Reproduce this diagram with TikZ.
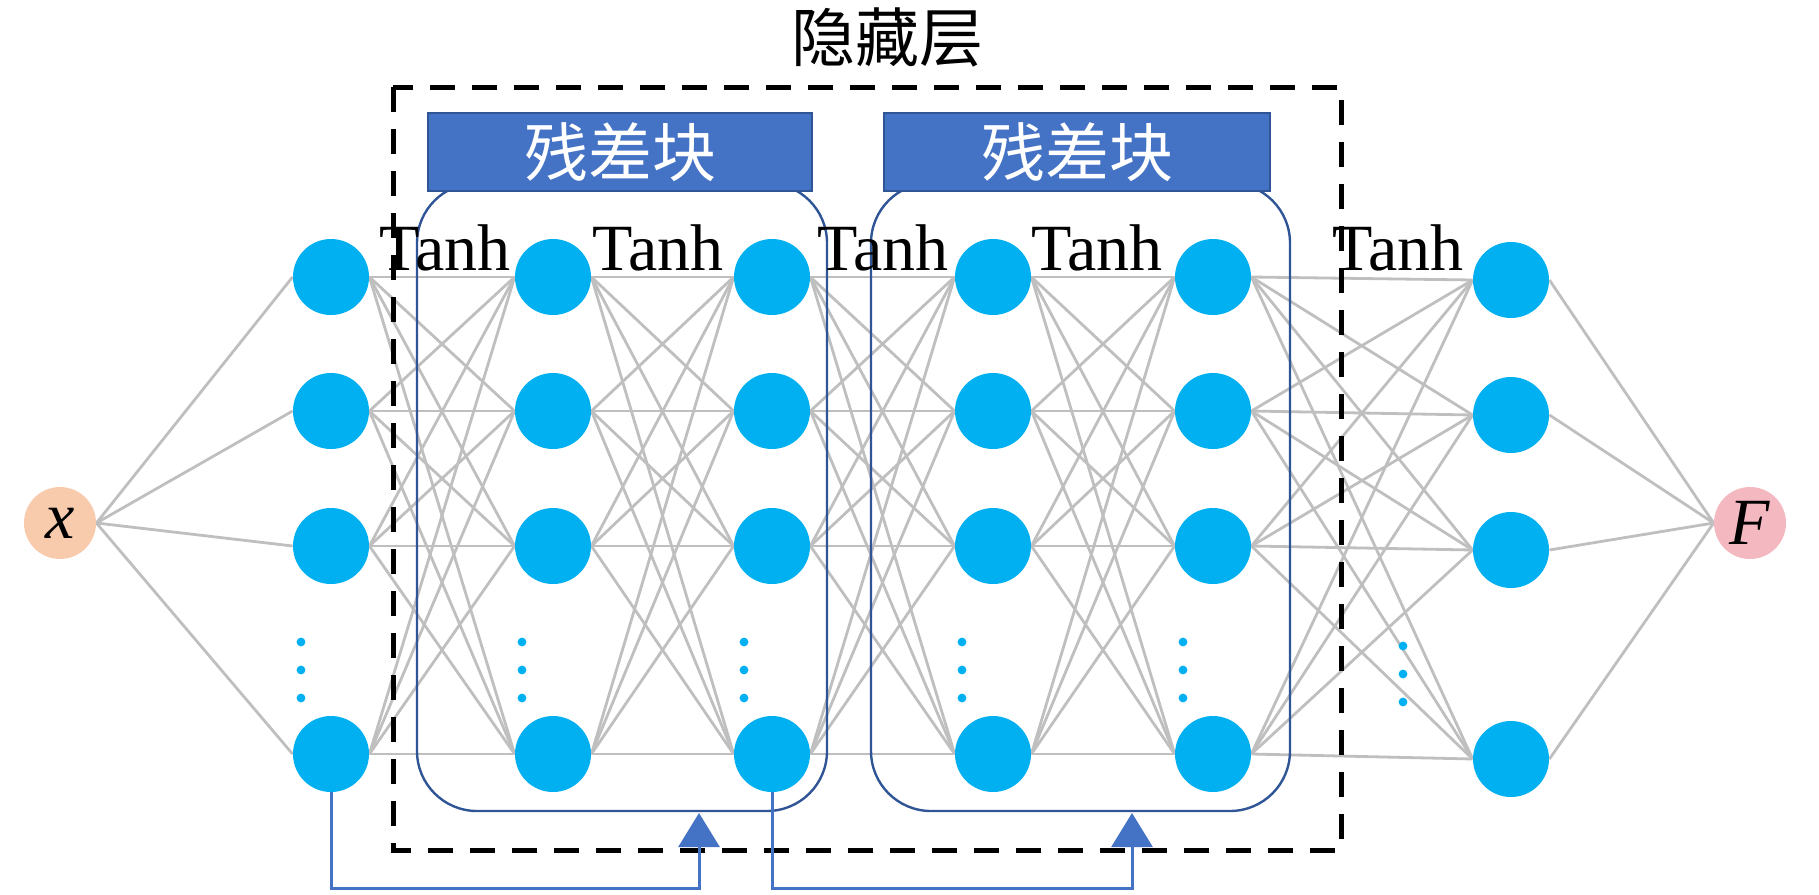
\documentclass[tikz,border=0pt]{standalone}
\usepackage{fontspec}
\setmainfont{Liberation Serif}
\newfontfamily\cjk{Noto Sans CJK SC}
\usetikzlibrary{arrows.meta}
\definecolor{neuroncol}{HTML}{00B0F0}
\definecolor{xcol}{HTML}{F8CBAD}
\definecolor{fcol}{HTML}{F4B8C0}
\definecolor{conncol}{HTML}{BFBFBF}
\definecolor{blockcol}{HTML}{2F5597}
\definecolor{labelcol}{HTML}{4472C4}
\pgfdeclarelayer{bg}
\pgfsetlayers{bg,main}
\begin{document}
\begin{tikzpicture}[x=0.5pt,y=-0.5pt,
  neuron/.style={circle,fill=neuroncol,draw=none,inner sep=0pt,minimum size=38pt},
  endnode/.style={circle,draw=none,inner sep=0pt,minimum size=36pt,font=\fontsize{33pt}{36pt}\selectfont\itshape},
  conn/.style={draw=conncol,line width=1.4pt},
  tanhlbl/.style={anchor=base west,inner sep=0pt,font=\fontsize{33pt}{36pt}\selectfont},
  blockbox/.style={draw=blockcol,line width=1.2pt,rounded corners=30pt,minimum height=314pt,inner sep=0pt},
  lblbox/.style={fill=labelcol,draw=blockcol,line width=1pt,minimum height=39pt,inner sep=0pt,text=white,font=\cjk\fontsize{32pt}{36pt}\selectfont},
  dashbox/.style={draw=black,line width=2.5pt,dash pattern=on 12.5pt off 8.5pt},
  skiparrow/.style={draw=labelcol,line width=1.5pt,-{Triangle[width=20.5pt,length=17pt]},color=labelcol}
]
\useasboundingbox (0,0) rectangle (1819,894);

% neurons
\foreach \L/\X in {1/331,2/553,3/772,4/993,5/1213}{
  \foreach \i/\Y in {1/277,2/411,3/546,4/754}{
    \node[neuron] (n\L\i) at (\X,\Y) {};
  }
}
\foreach \i/\Y in {1/280,2/415,3/550,4/759}{
  \node[neuron] (n6\i) at (1511,\Y) {};
}
\node[endnode,fill=xcol] (xin) at (60,523) {x};
\node[endnode,fill=fcol] (fout) at (1750,523) {F};

% vertical dots
\foreach \X in {301,522,744,962,1183}{
  \foreach \Y in {642,670,698}{
    \fill[neuroncol] (\X,\Y) circle (2.2pt);
  }
}
\foreach \Y in {646,674,702}{
  \fill[neuroncol] (1403,\Y) circle (2.2pt);
}

% connections
\begin{pgfonlayer}{bg}
\foreach \a/\b in {1/2,2/3,3/4,4/5,5/6}{
  \foreach \i in {1,...,4}{
    \foreach \j in {1,...,4}{
      \draw[conn] (n\a\i.east) -- (n\b\j.west);
    }
  }
}
\foreach \j in {1,...,4}{
  \draw[conn] (xin.east) -- (n1\j.west);
  \draw[conn] (n6\j.east) -- (fout.west);
}
\end{pgfonlayer}

% residual blocks
\node[blockbox,minimum width=205pt] (blk1) at (622,497) {};
\node[blockbox,minimum width=209.5pt] (blk2) at (1080.5,497) {};

% hidden layer box
\draw[dashbox] (393,87) rectangle (1341,850);
\node[inner sep=0pt,font=\cjk\fontsize{32pt}{36pt}\selectfont] (title) at (887,37) {隐藏层};

% block labels
\node[lblbox,minimum width=192pt] (lab1) at (620,152) {残差块};
\node[lblbox,minimum width=193pt] (lab2) at (1077,152) {残差块};

% Tanh labels
\node[tanhlbl] (t1) at (379,270) {Tanh};
\node[tanhlbl] (t2) at (592,270) {Tanh};
\node[tanhlbl] (t3) at (817,270) {Tanh};
\node[tanhlbl] (t4) at (1031,270) {Tanh};
\node[tanhlbl] (t5) at (1332,270) {Tanh};

% skip connections
\coordinate (a1) at (699,813);
\coordinate (a2) at (1132,813);
\draw[skiparrow] (n14.south) -- ++(0,96) -| (a1);
\draw[skiparrow] (n34.south) -- ++(0,96) -| (a2);
\end{tikzpicture}
\end{document}
